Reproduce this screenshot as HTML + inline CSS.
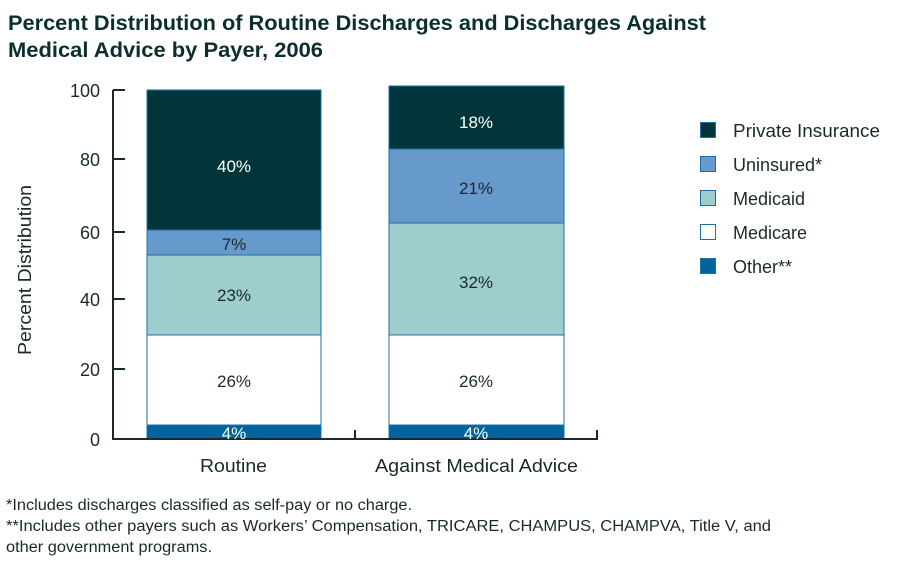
<!DOCTYPE html>
<html><head><meta charset="utf-8"><style>
body{margin:0;background:#fff;}
svg{display:block;font-family:"Liberation Sans",Arial,sans-serif;}
</style></head><body>
<svg width="900" height="579" viewBox="0 0 900 579">
<text x="8" y="30" font-size="21" font-weight="bold" fill="#0d2e2e" textLength="698" lengthAdjust="spacingAndGlyphs">Percent Distribution of Routine Discharges and Discharges Against</text>
<text x="8" y="57" font-size="21" font-weight="bold" fill="#0d2e2e" textLength="315" lengthAdjust="spacingAndGlyphs">Medical Advice by Payer, 2006</text>
<g fill="#1a2a2a" font-size="18" text-anchor="end">
<text x="100" y="97">100</text><text x="100" y="166">80</text><text x="100" y="239">60</text>
<text x="100" y="306">40</text><text x="100" y="376">20</text><text x="100" y="446">0</text>
</g>
<text transform="translate(31,270) rotate(-90)" font-size="18" text-anchor="middle" fill="#1a2a2a" textLength="170" lengthAdjust="spacingAndGlyphs">Percent Distribution</text>
<g stroke="#1f6fa8" stroke-width="1">
<rect x="147" y="90" width="174" height="140" fill="#01353a"/>
<rect x="147" y="230" width="174" height="25" fill="#6699cc"/>
<rect x="147" y="255" width="174" height="80" fill="#9dcdcd"/>
<rect x="147" y="335" width="174" height="90" fill="#fff"/>
<rect x="147" y="425" width="174" height="14" fill="#00659a"/>
<rect x="389" y="86" width="175" height="63" fill="#01353a"/>
<rect x="389" y="149" width="175" height="74" fill="#6699cc"/>
<rect x="389" y="223" width="175" height="112" fill="#9dcdcd"/>
<rect x="389" y="335" width="175" height="90" fill="#fff"/>
<rect x="389" y="425" width="175" height="14" fill="#00659a"/>
</g>
<g stroke="#1a2a2a" stroke-width="2" fill="none">
<path d="M113 90 V439 H597 V430"/>
<path d="M113 90H125M113 159H125M113 232H125M113 299H125M113 369H125M355 439V430"/>
</g>
<g font-size="17" text-anchor="middle">
<text x="234" y="172" fill="#fff">40%</text>
<text x="234" y="250" fill="#1a2a2a">7%</text>
<text x="234" y="301" fill="#1a2a2a">23%</text>
<text x="234" y="387" fill="#1a2a2a">26%</text>
<text x="234" y="439" fill="#fff">4%</text>
<text x="476" y="128" fill="#fff">18%</text>
<text x="476" y="194" fill="#1a2a2a">21%</text>
<text x="476" y="288" fill="#1a2a2a">32%</text>
<text x="476" y="387" fill="#1a2a2a">26%</text>
<text x="476" y="439" fill="#fff">4%</text>
</g>
<g font-size="18" fill="#1a2a2a">
<text x="200" y="472" textLength="67" lengthAdjust="spacingAndGlyphs">Routine</text>
<text x="375" y="472" textLength="203" lengthAdjust="spacingAndGlyphs">Against Medical Advice</text>
</g>
<g stroke="#1f6fa8" stroke-width="1">
<rect x="700.5" y="122.5" width="15" height="15" fill="#01353a"/>
<rect x="700.5" y="156.5" width="15" height="15" fill="#6699cc"/>
<rect x="700.5" y="190.5" width="15" height="15" fill="#9dcdcd"/>
<rect x="700.5" y="224.5" width="15" height="15" fill="#fff"/>
<rect x="700.5" y="258.5" width="15" height="15" fill="#00659a"/>
</g>
<g font-size="18" fill="#1a2a2a">
<text x="733" y="137" textLength="147" lengthAdjust="spacingAndGlyphs">Private Insurance</text>
<text x="733" y="171">Uninsured*</text>
<text x="733" y="205">Medicaid</text>
<text x="733" y="239">Medicare</text>
<text x="733" y="273">Other**</text>
</g>
<g font-size="15.5" fill="#1a2a2a">
<text x="6" y="510" textLength="406" lengthAdjust="spacingAndGlyphs">*Includes discharges classified as self-pay or no charge.</text>
<text x="6" y="531" textLength="765" lengthAdjust="spacingAndGlyphs">**Includes other payers such as Workers’ Compensation, TRICARE, CHAMPUS, CHAMPVA, Title V, and</text>
<text x="6" y="552" textLength="206" lengthAdjust="spacingAndGlyphs">other government programs.</text>
</g>
</svg>
</body></html>
